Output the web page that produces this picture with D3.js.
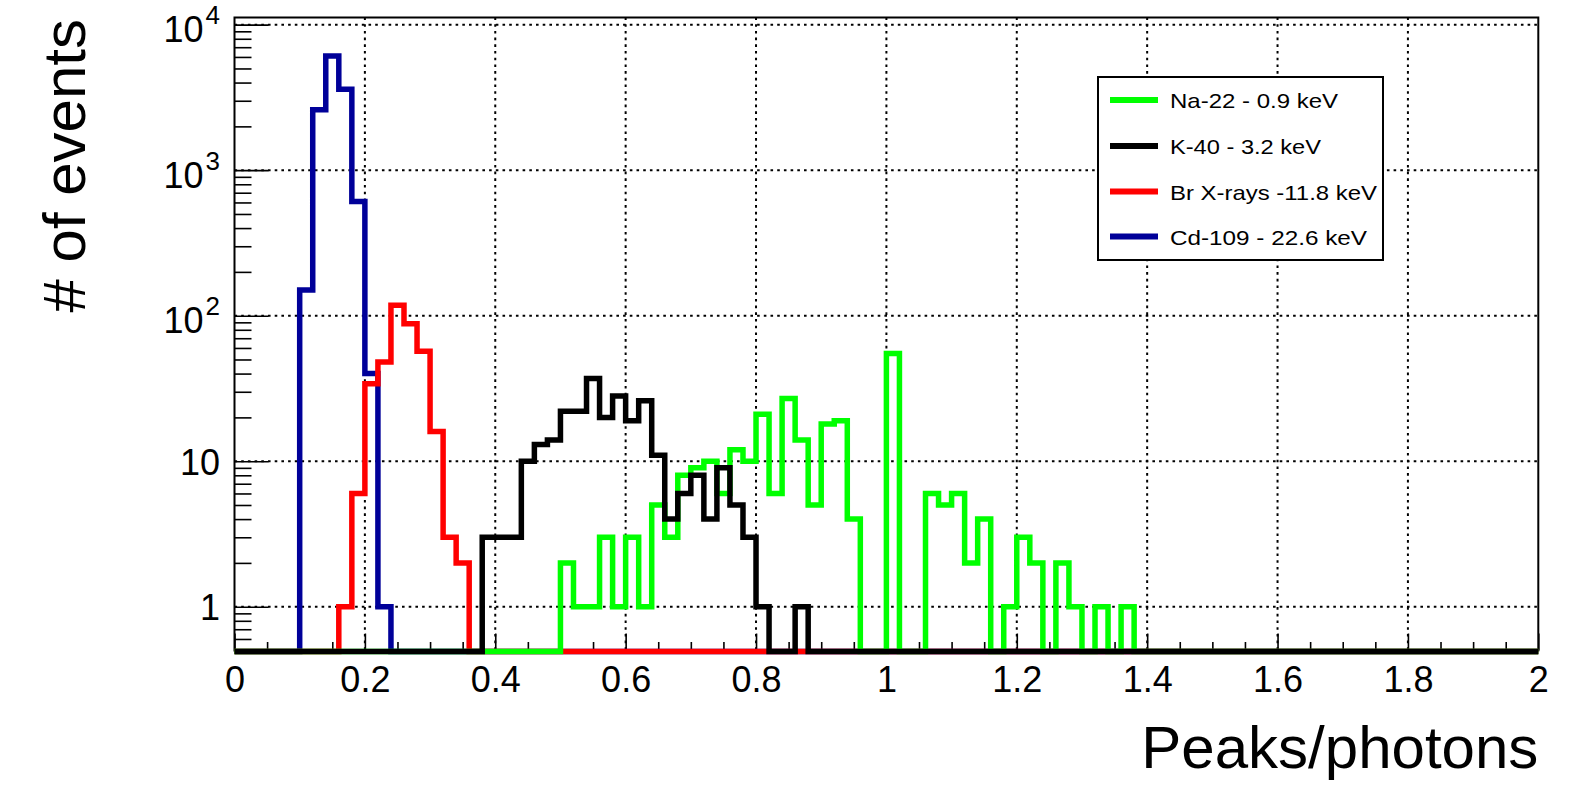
<!DOCTYPE html>
<html>
<head>
<meta charset="utf-8">
<script src="https://cdn.jsdelivr.net/npm/d3@7"></script>
<style>
  html, body { margin: 0; padding: 0; background: #fff; }
  svg { display: block; }
  text { font-family: "Liberation Sans", Arial, sans-serif; fill: #000; }
</style>
</head>
<body>
<svg id="chart" width="1575" height="802"></svg>
<script>
// ---------------- DATA ----------------
const binWidth = 0.02;

const seriesNames = ["Na-22 - 0.9 keV", "K-40 - 3.2 keV", "Br X-rays -11.8 keV", "Cd-109 - 22.6 keV"];
const seriesColors = ["#00ff00", "#000000", "#ff0000", "#000099"];

// first bin low edge of each series, then counts per 0.02-wide bin
const naStart = 0.50;
const naCounts = [2,1,1,3,1,3,1,5,3,8,9,10,6,12,10,21,6,27,14,5,18,19,4,0,0,55,0,0,6,5,6,2,4,0,1,3,2,0,2,1,0,1,0,1];
const kStart = 0.38;
const kCounts = [3,3,3,10,13,14,22,22,37,20,28,19,26,11,4,6,8,4,9,5,3,1,0,0,1];
const brStart = 0.16;
const brCounts = [1,6,34,48,118,88,57,16,3,2];
const cdStart = 0.10;
const cdCounts = [150,2600,6100,3600,610,40,1];

const xTickValues = [0,0.2,0.4,0.6,0.8,1,1.2,1.4,1.6,1.8,2];
const xTickLabels = ["0","0.2","0.4","0.6","0.8","1","1.2","1.4","1.6","1.8","2"];
const yTickValues = [1,10,100,1000,10000];
const yTickBases = ["1","10","10","10","10"];
const yTickExps = ["","","2","3","4"];

const xTitle = "Peaks/photons";
const yTitle = "# of events";

// ---------------- LAYOUT ----------------
const L = 234.5, R = 1538.3, T = 17.5, B = 650.5;
const svg = d3.select("#chart");

const x = d3.scaleLinear().domain([0, 2]).range([L, R]);
const y = d3.scaleLog().domain([0.5, 11200]).range([B, T]);

// grid
const gGrid = svg.append("g");
gGrid.selectAll("line.v").data(xTickValues.filter(v => v > 0 && v < 2)).join("line")
  .attr("x1", d => x(d)).attr("x2", d => x(d)).attr("y1", T).attr("y2", B)
  .attr("stroke", "#000").attr("stroke-width", 2).attr("stroke-dasharray", "2.6,4.1");
gGrid.selectAll("line.h").data(yTickValues).join("line")
  .attr("x1", L).attr("x2", R).attr("y1", d => y(d)).attr("y2", d => y(d))
  .attr("stroke", "#000").attr("stroke-width", 2).attr("stroke-dasharray", "2.6,4.1");

// axes (ticks inward)
const xMinor = d3.range(0, 2.0001, 0.05).filter(v => Math.abs(v / 0.2 - Math.round(v / 0.2)) > 1e-6);
const xAxisMinor = d3.axisBottom(x).tickValues(xMinor).tickSize(-8.5).tickFormat("");
const xAxisMajor = d3.axisBottom(x).tickValues(xTickValues).tickSize(-17).tickPadding(16)
  .tickFormat((d, i) => xTickLabels[i]);

const gxm = svg.append("g").attr("transform", `translate(0,${B})`).call(xAxisMinor);
const gx = svg.append("g").attr("transform", `translate(0,${B})`).call(xAxisMajor);
[gxm, gx].forEach(g => {
  g.select(".domain").remove();
  g.selectAll(".tick line").attr("stroke", "#000").attr("stroke-width", 1.6);
});
gx.selectAll(".tick text").attr("font-size", 36).attr("font-family", "Liberation Sans, Arial, sans-serif");

const yMinor = [];
[0.1, 1, 10, 100, 1000].forEach(dec => {
  for (let k = 2; k <= 9; k++) { const v = k * dec; if (v > 0.55 && v < 11000) yMinor.push(v); }
});
const yAxisMinor = d3.axisLeft(y).tickValues(yMinor).tickSize(-17).tickFormat("");
const yAxisMajor = d3.axisLeft(y).tickValues(yTickValues).tickSize(-34).tickFormat("");
const gym = svg.append("g").attr("transform", `translate(${L},0)`).call(yAxisMinor);
const gy = svg.append("g").attr("transform", `translate(${L},0)`).call(yAxisMajor);
[gym, gy].forEach(g => {
  g.select(".domain").remove();
  g.selectAll(".tick line").attr("stroke", "#000").attr("stroke-width", 1.6);
});
// y tick labels with superscripts
gy.selectAll(".tick").each(function(d, i) {
  const g = d3.select(this);
  const hasExp = yTickExps[i] !== "";
  const t = g.append("text").attr("text-anchor", "end").attr("x", -(L - 220))
    .attr("y", hasExp ? 17 : 13).attr("font-size", 36);
  t.append("tspan").text(yTickBases[i]);
  if (hasExp) {
    t.append("tspan").attr("dx", 2).attr("dy", -18).attr("font-size", 26).text(yTickExps[i]);
  }
});

// frame
svg.append("rect").attr("x", L).attr("y", T).attr("width", R - L).attr("height", B - T)
  .attr("fill", "none").attr("stroke", "#000").attr("stroke-width", 2);

// histograms
const nBins = Math.round(2 / binWidth);
function fullBins(start, counts) {
  const arr = new Array(nBins).fill(0);
  const i0 = Math.round(start / binWidth);
  counts.forEach((c, j) => { arr[i0 + j] = c; });
  return arr;
}
const seriesData = [
  fullBins(naStart, naCounts),
  fullBins(kStart, kCounts),
  fullBins(brStart, brCounts),
  fullBins(cdStart, cdCounts)
];
const zeroY = B + 1;
const line = d3.line()
  .x(d => x(d[0]))
  .y(d => d[1] > 0 ? y(d[1]) : zeroY)
  .curve(d3.curveStepAfter);

const drawOrder = [3, 2, 0, 1]; // blue, red, green, black
const gH = svg.append("g");
drawOrder.forEach(si => {
  const bins = seriesData[si];
  const pts = bins.map((c, i) => [i * binWidth, c]);
  pts.push([2, bins[nBins - 1]]);
  gH.append("path").attr("d", line(pts))
    .attr("fill", "none").attr("stroke", seriesColors[si])
    .attr("stroke-width", 5.5).attr("stroke-linejoin", "miter").attr("stroke-linecap", "butt");
});

// axis titles
svg.append("text").attr("x", R).attr("y", 768).attr("text-anchor", "end")
  .attr("font-size", 60).text(xTitle);
svg.append("text").attr("transform", `translate(85,19) rotate(-90)`).attr("text-anchor", "end")
  .attr("font-size", 60).text(yTitle);

// legend
const legX = 1098, legY = 77, legW = 285, legH = 183;
const legRowY = [100, 146, 191.5, 236.5];
const legTextW = [168, 151, 207, 197];
const gL = svg.append("g");
gL.append("rect").attr("x", legX).attr("y", legY).attr("width", legW).attr("height", legH)
  .attr("fill", "#fff").attr("stroke", "#000").attr("stroke-width", 2);
seriesNames.forEach((name, i) => {
  gL.append("line").attr("x1", 1110).attr("x2", 1158).attr("y1", legRowY[i]).attr("y2", legRowY[i])
    .attr("stroke", seriesColors[i]).attr("stroke-width", 6);
  gL.append("text").attr("x", 1170).attr("y", legRowY[i] + 8).attr("font-size", 21)
    .attr("textLength", legTextW[i]).attr("lengthAdjust", "spacingAndGlyphs").text(name);
});
</script>
</body>
</html>
